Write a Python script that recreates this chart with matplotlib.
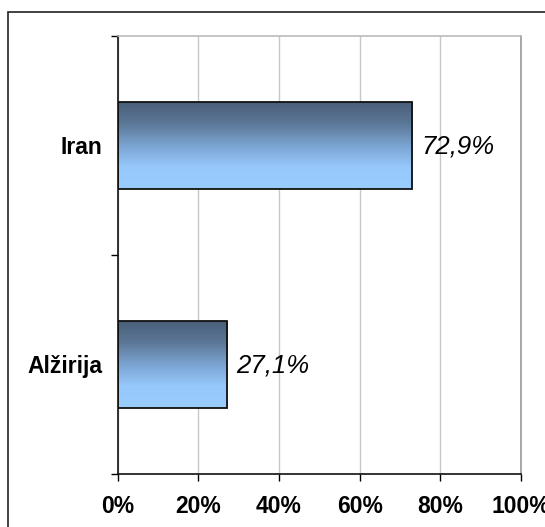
import numpy as np
import matplotlib
matplotlib.use("Agg")
from matplotlib import pyplot as plt
from matplotlib.colors import LinearSegmentedColormap
from matplotlib.patches import Rectangle

# data
countries = ["Alžirija", "Iran"]
shares = [27.1, 72.9]
value_labels = ["27,1%", "72,9%"]
xticks = [0, 20, 40, 60, 80, 100]

plt.rcParams['font.family'] = ['Liberation Sans', 'DejaVu Sans']

fig = plt.figure(figsize=(5.45, 5.27), dpi=100)
ax = fig.add_axes([117.5 / 545, 53 / 527, (521 - 117.5) / 545, (474 - 36) / 527])

# frame around the whole chart (runs off the right and bottom edge)
fig.patches.append(Rectangle((8 / 545, -0.05), 1.2, (527 - 12) / 527 + 0.05,
                             transform=fig.transFigure, fill=False,
                             edgecolor="#333333", linewidth=1.3))

grad = LinearSegmentedColormap.from_list("bar", ["#485d77", "#5b7796", "#7aa2cf", "#96c8fb", "#99ccff"])
img = np.linspace(0, 1, 256).reshape(-1, 1)

bar_h = 0.4
bars = ax.barh(range(len(countries)), shares, height=bar_h, color="none",
               edgecolor="#111111", linewidth=1.3, zorder=3)
for b in bars:
    x0, y0 = b.get_x(), b.get_y()
    w, h = b.get_width(), b.get_height()
    im = ax.imshow(img, cmap=grad, aspect="auto", extent=(x0, x0 + w, y0, y0 + h),
                   origin="upper", zorder=2)
    im.set_clip_path(b)

for i, (v, lab) in enumerate(zip(shares, value_labels)):
    ax.text(v + 2.4, i - 0.005, lab, va="center", ha="left", fontsize=18.5,
            style="italic", color="black")

ax.set_xlim(0, 100)
ax.set_ylim(-0.5, 1.5)
ax.set_xticks(xticks)
ax.set_xticklabels([f"{t}%" for t in xticks], fontsize=16.5, fontweight="bold")
ax.set_yticks(range(len(countries)))
ax.set_yticklabels(countries, fontsize=16.5, fontweight="bold")
ax.set_yticks([-0.5, 0.5, 1.5], minor=True)
ax.tick_params(axis="y", which="major", length=0, pad=11)
ax.tick_params(axis="y", which="minor", length=5, width=1, direction="out")
ax.tick_params(axis="x", length=5, width=1, direction="out", pad=10)

ax.grid(axis="x", color="#c8c8c8", linewidth=1, zorder=0)
ax.set_axisbelow(True)
ax.spines["left"].set_color("#111111")
ax.spines["bottom"].set_color("#111111")
ax.spines["top"].set_color("#bbbbbb")
ax.spines["right"].set_color("#999999")
for s in ax.spines.values():
    s.set_linewidth(1.2)

fig.savefig("out.png", dpi=100)
